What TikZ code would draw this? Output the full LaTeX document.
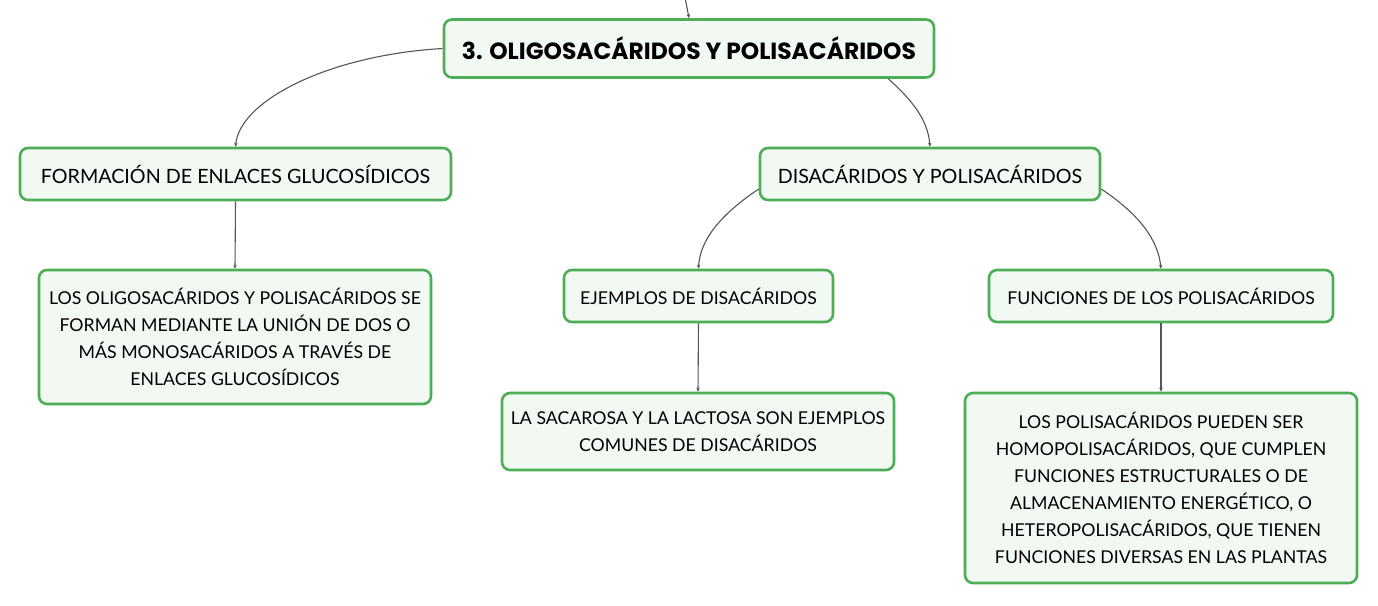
\documentclass[tikz,border=0pt]{standalone}
\usepackage{fontspec}
\setmainfont{Lato}
\newfontfamily\titlefont{Poppins}
\usetikzlibrary{arrows.meta}
\definecolor{bordergreen}{HTML}{4DAE55}
\definecolor{fillgreen}{HTML}{F2F9F3}
\definecolor{linegray}{HTML}{555555}
\tikzset{
  box/.style={draw=bordergreen, fill=fillgreen, line width=2.6pt, rounded corners=8pt,
    align=center, inner sep=0pt, text=black, font=\fontsize{17.7}{27}\selectfont},
  levelbox/.style={box, font=\fontsize{19.7}{27}\selectfont},
  titlebox/.style={box, font=\titlefont\fontsize{23.4}{27}\selectfont\bfseries},
  conn/.style={draw=linegray, line width=1.1pt, -{Stealth[length=4pt,width=3.5pt]}},
}
\begin{document}
\begin{tikzpicture}[x=1pt,y=-1pt]
\useasboundingbox[fill=white] (0,0) rectangle (1378,605);
\coordinate (in) at (685.5,0);
\node[titlebox, minimum width=490pt, minimum height=58pt] (top) at (689,48.5) {3. OLIGOSACÁRIDOS Y POLISACÁRIDOS};
\node[levelbox, minimum width=431pt, minimum height=52pt] (form) at (235.5,174) {FORMACIÓN DE ENLACES GLUCOSÍDICOS};
\node[levelbox, minimum width=340pt, minimum height=52pt] (dis) at (930,174) {DISACÁRIDOS Y POLISACÁRIDOS};
\node[box, minimum width=392pt, minimum height=134pt] (oligo) at (235,337) {LOS OLIGOSACÁRIDOS Y POLISACÁRIDOS SE\\FORMAN MEDIANTE LA UNIÓN DE DOS O\\MÁS MONOSACÁRIDOS A TRAVÉS DE\\ENLACES GLUCOSÍDICOS};
\node[box, minimum width=269pt, minimum height=52pt] (ejem) at (698.5,296) {EJEMPLOS DE DISACÁRIDOS};
\node[box, minimum width=344pt, minimum height=52pt] (func) at (1161,296) {FUNCIONES DE LOS POLISACÁRIDOS};
\node[box, minimum width=392pt, minimum height=77pt] (saca) at (698,431.5) {LA SACAROSA Y LA LACTOSA SON EJEMPLOS\\COMUNES DE DISACÁRIDOS};
\node[box, minimum width=392pt, minimum height=190pt] (poli) at (1161,488) {LOS POLISACÁRIDOS PUEDEN SER\\HOMOPOLISACÁRIDOS, QUE CUMPLEN\\FUNCIONES ESTRUCTURALES O DE\\ALMACENAMIENTO ENERGÉTICO, O\\HETEROPOLISACÁRIDOS, QUE TIENEN\\FUNCIONES DIVERSAS EN LAS PLANTAS};
\draw[conn] (in) -- (top.north);
\draw[conn] (top.west) .. controls (330,55) and (240,100) .. (form.north);
\draw[conn] (top.south east) ++(-47,0) coordinate (tse) (tse) .. controls (912,100) and (928,120) .. (dis.north);
\draw[conn] (form.south) -- (oligo.north);
\draw[conn] (dis.west) ++(0,15) coordinate (dw) (dw) .. controls (720,215) and (700,240) .. (ejem.north);
\draw[conn] (dis.east) ++(0,15) coordinate (de) (de) .. controls (1140,215) and (1158,240) .. (func.north);
\draw[conn] (ejem.south) -- (saca.north);
\draw[conn] (func.south) -- (poli.north);
\end{tikzpicture}
\end{document}
